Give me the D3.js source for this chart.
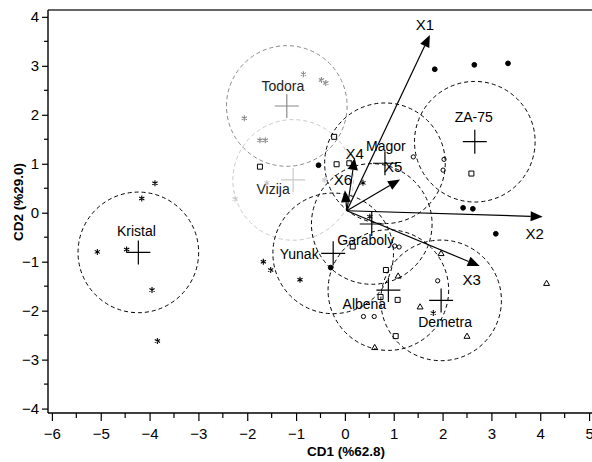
<!DOCTYPE html>
<html><head><meta charset="utf-8">
<script src="https://cdn.jsdelivr.net/npm/d3@7"></script>
<style>
html,body{margin:0;padding:0;background:#fff;}
svg text{font-family:"Liberation Sans",Arial,sans-serif;}
</style></head>
<body><svg id="c" width="592" height="462"></svg>
<script>
// ---- data ----
const groups    = ["Kristal","Todora","Vizija","Magor","ZA-75","Garaboly","Yunak","Albena","Demetra"];
const centroidX = [-4.23,-1.19,-1.06,0.82,2.66,0.55,-0.24,0.89,1.97];
const centroidY = [-0.81, 2.18, 0.67,1.01,1.45,-0.23,-0.83,-1.58,-1.79];
const circleRadius = 1.235;

const pointGroup  = ["Kristal","Kristal","Kristal","Kristal","Kristal","Kristal",
  "Todora","Todora","Todora","Todora","Todora","Todora",
  "Vizija","Vizija","Vizija",
  "Magor","Magor","Magor","Magor","Magor","Magor","Magor","Magor","Magor",
  "ZA-75","ZA-75","ZA-75","ZA-75","ZA-75","ZA-75","ZA-75",
  "Garaboly","Garaboly","Garaboly","Garaboly","Garaboly","Garaboly",
  "Yunak","Yunak","Yunak","Yunak",
  "Albena","Albena","Albena","Albena","Albena","Albena",
  "Demetra","Demetra","Demetra","Demetra","Demetra","Demetra"];
const pointX = [-5.07,-4.47,-3.95,-3.84,-3.89,-4.16,
  -0.85,-0.48,-0.39,-2.06,-1.74,-1.63,
  -2.25,-1.60,-0.41,
  -0.22,-0.17,0.09,-1.74,-0.54,0.37,1.40,2.03,2.01,
  1.84,2.65,3.34,2.42,2.62,3.09,2.59,
  0.51,0.16,1.02,1.11,0.84,1.09,
  -1.67,-1.52,-0.92,-0.29,
  0.73,1.08,0.38,0.60,1.04,0.61,
  1.97,1.90,1.54,1.81,2.50,4.13];
const pointY = [-0.80,-0.75,-1.58,-2.62,0.60,0.29,
  2.83,2.71,2.65,1.93,1.48,1.48,
  0.28,0.61,0.67,
  1.55,0.99,1.01,0.94,0.97,0.61,1.14,1.09,0.87,
  2.93,3.02,3.05,0.10,0.08,-0.43,0.80,
  -0.08,-0.69,-0.68,-0.70,-1.17,-1.29,
  -1.00,-1.17,-1.37,-1.12,
  -1.72,-1.78,-2.12,-2.12,-2.52,-2.75,
  -0.83,-1.39,-1.92,-2.05,-2.52,-1.44];
const pointMarker = ["star","star","star","star","star","star",
  "star","star","star","star","star","star",
  "star","star","star",
  "square","square","square","square","dot","star","circle","circle","circle",
  "dot","dot","dot","dot","dot","dot","square",
  "star","square","circle","circle","square","triangle",
  "star","star","star","dot",
  "square","square","circle","circle","square","triangle",
  "triangle","circle","triangle","star","triangle","triangle"];

const variables = ["X1","X2","X3","X4","X5","X6"];
const vecX = [1.74,4.05,2.76,0.20,1.13,0.00];
const vecY = [3.63,-0.08,-1.09,1.12,0.68,0.46];
const vecOrigin = [0.04,0.04];

const xTicks = [-6,-5,-4,-3,-2,-1,0,1,2,3,4,5];
const yTicks = [-4,-3,-2,-1,0,1,2,3,4];
const xTitle = "CD1 (%62.8)";
const yTitle = "CD2 (%29.0)";

// ---- layout / style ----
const groupColor = {"Todora":"#8a8a8a","Vizija":"#c9c9c9"};
const colorOf = g => groupColor[g] || "#000";
const labelOffset = {"Kristal":[-2,-21],"Todora":[-4,-20],"Vizija":[-20,9],"Magor":[1,-17],
  "ZA-75":[-1,-25],"Garaboly":[-6,16],"Yunak":[-34,1],"Albena":[-24,14],"Demetra":[4,22]};
const vecLabelOffset = {"X1":[-5,-10],"X2":[-8,17],"X3":[-8,14],"X4":[0,-4],"X5":[-7,-13],"X6":[-2,-10]};

const L=48, R=592, T=10, B=413;
const x = d3.scaleLinear().domain([-6.08,5.06]).range([L,R]);
const y = d3.scaleLinear().domain([-4.09,4.14]).range([B,T]);
const svg = d3.select("#c");

// frame
svg.append("line").attr("x1",L).attr("x2",R).attr("y1",T).attr("y2",T).attr("stroke","#333").attr("stroke-width",1.5);

// axes
const xAxis = d3.axisBottom(x).tickValues(xTicks).tickSize(8).tickPadding(7).tickFormat(d3.format("d"));
const gx = svg.append("g").attr("transform",`translate(0,${B})`).call(xAxis);
const yAxis = d3.axisLeft(y).tickValues(yTicks).tickSize(6).tickPadding(3).tickFormat(d3.format("d"));
const gy = svg.append("g").attr("transform",`translate(${L},0)`).call(yAxis);
[gx,gy].forEach(g=>{
  g.select(".domain").attr("stroke","#000").attr("stroke-width",1.4);
  g.selectAll(".tick line").attr("stroke","#000").attr("stroke-width",1.2);
  g.selectAll(".tick text").attr("fill","#000").style("font-size","15px").style("font-family","'Liberation Sans',Arial,sans-serif");
});
gx.select(".domain").attr("d",`M${L},0H${R}`);
gy.select(".domain").attr("d",`M0,${T}V${B}`);
// minor ticks
const xMinor = xTicks.slice(0,-1).map(v=>v+0.5);
const yMinor = yTicks.slice(0,-1).map(v=>v+0.5);
svg.append("g").selectAll("line").data(xMinor).join("line")
  .attr("x1",d=>x(d)).attr("x2",d=>x(d)).attr("y1",B).attr("y2",B+5).attr("stroke","#000").attr("stroke-width",1.2);
svg.append("g").selectAll("line").data(yMinor).join("line")
  .attr("y1",d=>y(d)).attr("y2",d=>y(d)).attr("x1",L).attr("x2",L-4).attr("stroke","#000").attr("stroke-width",1.2);

// axis titles
svg.append("text").attr("x",346).attr("y",456).attr("text-anchor","middle")
  .style("font-size","13.5px").style("font-weight","bold").text(xTitle);
svg.append("text").attr("transform","translate(23,202) rotate(-90)").attr("text-anchor","middle")
  .style("font-size","13.5px").style("font-weight","bold").text(yTitle);

const plot = svg.append("g");
const rPx = x(circleRadius)-x(0);

// circles
plot.selectAll("circle.grp").data(groups).join("circle").attr("class","grp")
  .attr("cx",(g,i)=>x(centroidX[i])).attr("cy",(g,i)=>y(centroidY[i])).attr("r",rPx)
  .attr("fill","none").attr("stroke",g=>colorOf(g)).attr("stroke-width",1).attr("stroke-dasharray","4,3");

// centroid plus marks
const pl = 12;
groups.forEach((g,i)=>{
  const cx=x(centroidX[i]), cy=y(centroidY[i]);
  plot.append("path").attr("d",`M${cx-pl},${cy}H${cx+pl}M${cx},${cy-pl}V${cy+pl}`)
    .attr("stroke",colorOf(g)).attr("stroke-width",1.2).attr("fill","none");
  const o = labelOffset[g];
  plot.append("text").attr("x",cx+o[0]).attr("y",cy+o[1]).attr("dy","0.35em").attr("text-anchor","middle")
    .style("font-size","14px").attr("fill", g==="Vizija"||g==="Todora" ? "#222" : "#000").text(g);
});

// points
function markerPath(m){
  if(m==="star"){ const a=3; const b=a*0.87, c=a*0.5;
    return `M0,${-a}V${a}M${-b},${-c}L${b},${c}M${-b},${c}L${b},${-c}`; }
  if(m==="square") return "M-2.5,-2.5H2.5V2.5H-2.5Z";
  if(m==="triangle") return "M0,-3L3,2.2H-3Z";
  if(m==="circle") return d3.symbol(d3.symbolCircle,14)();
  return d3.symbol(d3.symbolCircle,18)();
}
pointX.forEach((px,i)=>{
  const m = pointMarker[i], c = colorOf(pointGroup[i]);
  plot.append("path").attr("transform",`translate(${x(px)},${y(pointY[i])})`)
    .attr("d",markerPath(m))
    .attr("fill", m==="dot" ? c : "none")
    .attr("stroke", c).attr("stroke-width", m==="star"?1.1:1);
});

// vectors
const ox = x(vecOrigin[0]), oy = y(vecOrigin[1]);
variables.forEach((v,i)=>{
  const tx=x(vecX[i]), ty=y(vecY[i]);
  const ang=Math.atan2(ty-oy,tx-ox), hl=12, hw=5;
  const bx=tx-hl*Math.cos(ang), by=ty-hl*Math.sin(ang);
  plot.append("line").attr("x1",ox).attr("y1",oy).attr("x2",bx).attr("y2",by).attr("stroke","#000").attr("stroke-width",1.2);
  const p1=[bx+hw*Math.sin(ang), by-hw*Math.cos(ang)], p2=[bx-hw*Math.sin(ang), by+hw*Math.cos(ang)];
  plot.append("path").attr("d",`M${tx},${ty}L${p1[0]},${p1[1]}L${p2[0]},${p2[1]}Z`).attr("fill","#000");
  const o = vecLabelOffset[v];
  plot.append("text").attr("x",tx+o[0]).attr("y",ty+o[1]).attr("dy","0.35em").attr("text-anchor","middle")
    .style("font-size","15px").text(v);
});
</script></body></html>
